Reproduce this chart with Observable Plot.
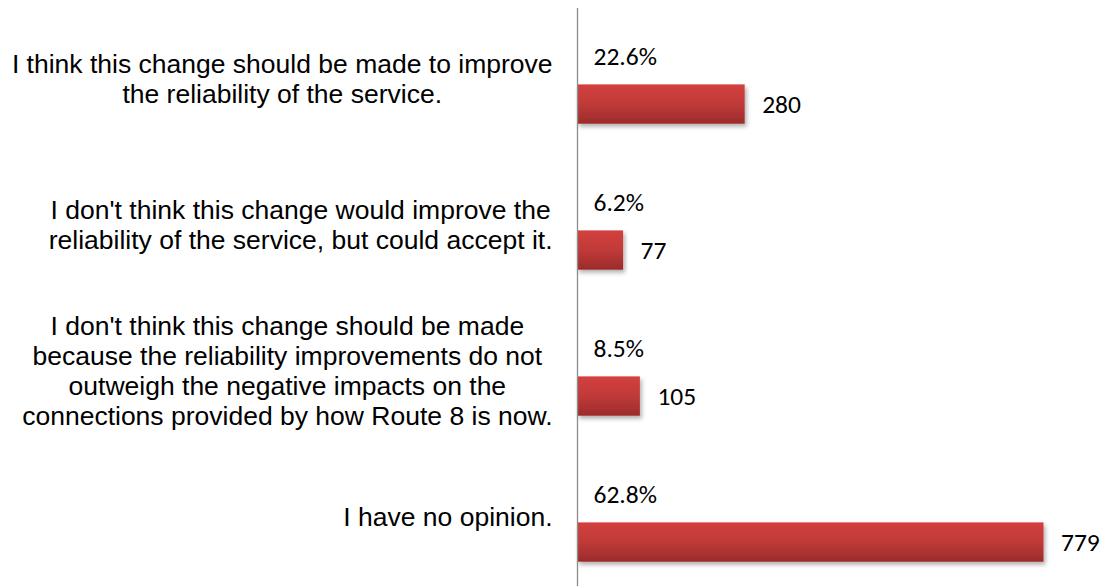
<!DOCTYPE html>
<html><head><meta charset="utf-8">
<script src="https://cdn.jsdelivr.net/npm/d3@7"></script>
<script src="https://cdn.jsdelivr.net/npm/@observablehq/plot@0.6"></script>
<style>html,body{margin:0;padding:0;background:#fff;overflow:hidden}</style>
</head><body><div id="chart"></div>
<script>
const categories = [
  "I think this change should be made to improve\nthe reliability of the service.",
  "I don't think this change would improve the\nreliability of the service, but could accept it.",
  "I don't think this change should be made\nbecause the reliability improvements do not\noutweigh the negative impacts on the\nconnections provided by how Route 8 is now.",
  "I have no opinion."
];
const counts = [280, 77, 105, 779];
const percents = ["22.6%", "6.2%", "8.5%", "62.8%"];

const data = categories.map((c, i) => ({category: c, count: counts[i], pct: percents[i]}));

const W = 1104, H = 586, ML = 577, MR = 0, XMAX = 880;
const k = (W - ML - MR) / XMAX;
const labelFamily = "'Liberation Sans', Arial, sans-serif";
const labelSize = 26.5;
const numFamily = "Carlito, Calibri, Lato, sans-serif";
const numSize = 25.5;
const ctx = document.createElement("canvas").getContext("2d");
ctx.font = `${labelSize}px ${labelFamily}`;
const labelGap = 25;
function labelX(c) {
  const w = Math.max(...c.split("\n").map(l => ctx.measureText(l).width));
  return -(labelGap + w / 2) / k;
}

const plot = Plot.plot({
  width: W, height: H,
  marginLeft: ML, marginRight: MR, marginTop: 4, marginBottom: -3,
  x: {domain: [0, XMAX], axis: null},
  y: {domain: categories, axis: null, paddingInner: 0, paddingOuter: 0},
  style: {background: "#fff"},
  marks: [
    Plot.barX(data, {x: "count", y: "category", fill: "url(#barGrad)", insetTop: 79.4, insetBottom: 27.3}),
    Plot.ruleX([0], {stroke: "#8c8c8c", strokeWidth: 1.3, insetTop: 4}),
    Plot.text(data, {x: d => labelX(d.category), y: "category", text: "category", textAnchor: "middle",
      lineHeight: 1.13, fontSize: labelSize, fontFamily: labelFamily, fill: "#000"}),
    Plot.text(data, {x: 0, y: "category", text: "pct", textAnchor: "start", dx: 16, dy: -22,
      fontSize: numSize, fontFamily: numFamily, fill: "#000"}),
    Plot.text(data, {x: "count", y: "category", text: d => String(d.count), textAnchor: "start", dx: 17, dy: 26,
      fontSize: numSize, fontFamily: numFamily, fill: "#000"})
  ]
});

const ns = "http://www.w3.org/2000/svg";
const defs = document.createElementNS(ns, "defs");
defs.innerHTML = `
  <linearGradient id="barGrad" x1="0" y1="0" x2="0" y2="1">
    <stop offset="0" stop-color="#d3403e"/>
    <stop offset="0.5" stop-color="#c03a38"/>
    <stop offset="1" stop-color="#9b2b2a"/>
  </linearGradient>
  <filter id="barShadow" x="-5%" y="-20%" width="115%" height="160%">
    <feDropShadow dx="2" dy="3" stdDeviation="2" flood-color="#000" flood-opacity="0.3"/>
  </filter>`;
plot.insertBefore(defs, plot.firstChild);
plot.querySelectorAll('g[aria-label="bar"] rect').forEach(r => r.setAttribute("filter", "url(#barShadow)"));
document.getElementById("chart").appendChild(plot);
</script>
</body></html>
